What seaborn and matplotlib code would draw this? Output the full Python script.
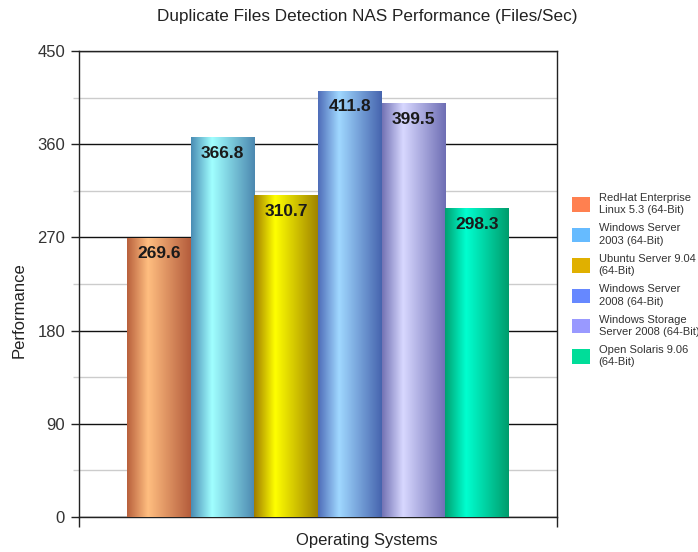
import numpy as np
import pandas as pd
import matplotlib
matplotlib.use("Agg")
import matplotlib.pyplot as plt
from matplotlib.colors import LinearSegmentedColormap
from matplotlib.patches import Patch
import seaborn as sns

# ---- data ----
systems = [
    "RedHat Enterprise\nLinux 5.3 (64-Bit)",
    "Windows Server\n2003 (64-Bit)",
    "Ubuntu Server 9.04\n(64-Bit)",
    "Windows Server\n2008 (64-Bit)",
    "Windows Storage\nServer 2008 (64-Bit)",
    "Open Solaris 9.06\n(64-Bit)",
]
performance = [269.6, 366.8, 310.7, 411.8, 399.5, 298.3]
group = ["Operating Systems"] * len(systems)
yticks = [0, 90, 180, 270, 360, 450]

legend_colors = ["#FF8050", "#66BBFF", "#E0B000", "#6688FF", "#9999FF", "#00DD99"]
grad_left = ["#B8603C", "#4A8CB4", "#A07C00", "#4E6CB8", "#7272B4", "#00A070"]
grad_peak = ["#FFBE80", "#A0FFFF", "#FFFF00", "#A0D8FF", "#D8D8FF", "#00FFD0"]
grad_right = ["#B45C3C", "#4C88B0", "#A08400", "#4664AE", "#6E6EB4", "#009C6C"]

df = pd.DataFrame({"group": group, "os": systems, "value": performance})

sns.set_style("white")
plt.rcParams["font.family"] = ["Liberation Sans", "DejaVu Sans"]

W, H = 698, 552
fig = plt.figure(figsize=(W / 100, H / 100), dpi=100)
ax = fig.add_axes([79 / W, 1 - 517 / H, (557 - 79) / W, (517 - 51) / H])

sns.barplot(data=df, x="group", y="value", hue="os", palette=legend_colors,
            hue_order=systems, width=0.8, dodge=True, ax=ax, legend=False,
            saturation=1, linewidth=0, zorder=3)

ax.set_xlim(-0.5, 0.5)
ax.set_ylim(0, 450)

# gradient fill for each bar
bars = [p for p in ax.patches]
for i, p in enumerate(bars):
    x0, y0 = p.get_x(), p.get_y()
    w, h = p.get_width(), p.get_height()
    cmap = LinearSegmentedColormap.from_list(
        f"g{i}", [(0, grad_left[i]), (0.33, grad_peak[i]), (1, grad_right[i])])
    grad = np.linspace(0, 1, 256).reshape(1, -1)
    im = ax.imshow(grad, cmap=cmap, extent=[x0, x0 + w, y0, y0 + h],
                   aspect="auto", zorder=3, interpolation="bilinear")
    im.set_clip_path(p)
    p.set_facecolor("none")
    ax.annotate(f"{performance[i]:.1f}", (x0 + w / 2, y0 + h),
                xytext=(0, -16), textcoords="offset pixels",
                ha="center", va="center", fontsize=12.5, fontweight="bold",
                color="#1a1a1a", zorder=5)

ax.set_xlim(-0.5, 0.5)
ax.set_ylim(0, 450)

# grid
ax.set_yticks(yticks)
ax.set_yticks([45, 135, 225, 315, 405], minor=True)
ax.grid(axis="y", which="major", color="#111111", linewidth=1.0, zorder=1)
ax.grid(axis="y", which="minor", color="#cccccc", linewidth=1.0, zorder=1)
ax.set_axisbelow(True)
ax.tick_params(axis="y", which="major", length=6, width=1.0, color="#222222",
               labelsize=12, labelcolor="#333333", pad=4, left=True)
ax.tick_params(axis="y", which="minor", length=4, width=1.0, color="#cccccc", left=True)
ax.set_xticks([-0.5, 0.5])
ax.set_xticklabels(["", ""])
ax.tick_params(axis="x", length=7, width=1.0, color="#222222", bottom=True)
for s in ax.spines.values():
    s.set_visible(True)
    s.set_color("#222222")
    s.set_linewidth(1.0)
ax.set_xlabel("")
ax.set_ylabel("")

fig.text(367 / W, 1 - 16 / H, "Duplicate Files Detection NAS Performance (Files/Sec)",
         ha="center", va="center", fontsize=12.3, color="#222222")
fig.text(367 / W, 1 - 541 / H, "Operating Systems", ha="center", va="center",
         fontsize=12, color="#222222")
fig.text(19 / W, 1 - 310 / H, "Performance", ha="center", va="center",
         rotation=90, fontsize=12, color="#222222")

handles = [Patch(facecolor=c, edgecolor="none") for c in legend_colors]
leg = fig.legend(handles, systems, loc="upper left",
                 bbox_to_anchor=(572 / W, 1 - 193 / H), bbox_transform=fig.transFigure,
                 frameon=False, fontsize=8, labelcolor="#333333",
                 handlelength=1.6, handleheight=1.6, handletextpad=0.8,
                 labelspacing=0.72, borderpad=0, borderaxespad=0)
for t in leg.get_texts():
    t.set_linespacing(1.3)

fig.savefig("out.png", dpi=100)
